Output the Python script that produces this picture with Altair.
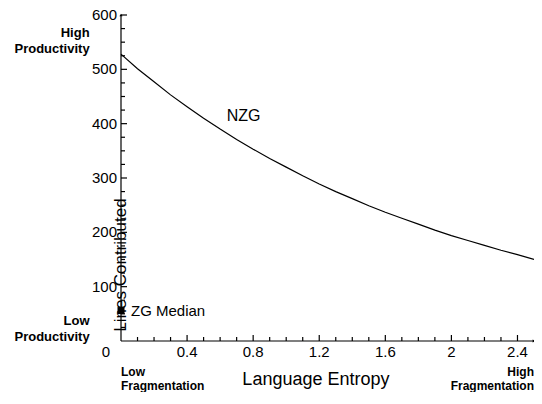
import altair as alt
import pandas as pd

# ---- data ----
entropy = [0.0, 0.1, 0.2, 0.3, 0.4, 0.5, 0.6, 0.7, 0.8, 0.9, 1.0, 1.1, 1.2,
           1.3, 1.4, 1.5, 1.6, 1.7, 1.8, 1.9, 2.0, 2.1, 2.2, 2.3, 2.4, 2.5]
nzg_lines = [528, 501, 477, 453, 431, 410, 390, 371, 353, 336, 320, 304, 289,
             275, 262, 249, 237, 226, 215, 204, 194, 185, 176, 167, 159, 150]

zg_entropy = [0.0]
zg_lines = [56]

x_major = [0.4, 0.8, 1.2, 1.6, 2.0, 2.4]
x_tick_labels = ["0.4", "0.8", "1.2", "1.6", "2", "2.4"]
x_minor = [0.1, 0.2, 0.3, 0.5, 0.6, 0.7, 0.9, 1.0, 1.1, 1.3, 1.4, 1.5,
           1.7, 1.8, 1.9, 2.1, 2.2, 2.3]
y_major = [100, 200, 300, 400, 500, 600]
y_tick_labels = ["100", "200", "300", "400", "500", "600"]
y_minor = [25, 50, 75, 125, 150, 175, 225, 250, 275, 325, 350, 375,
           425, 450, 475, 525, 550, 575]

# axis extents
x_axis_start = [0.0]
x_axis_end = [2.5]
y_axis_start = [0]
y_axis_end = [600]

# titles (data coordinates of their centres)
x_title = ["Language Entropy"]
x_title_pos = [1.18]
y_title = ["Lines Contributed"]
y_title_pos = [276]

# annotations (data coordinates of the first text line)
prod_text = ["High\nProductivity", "Low\nProductivity"]
prod_x = [-0.19, -0.19]
prod_y = [567, 37]
frag_right_text = ["High\nFragmentation"]
frag_right_x = [2.5]
frag_left_text = ["Low\nFragmentation"]
frag_left_x = [0.0]
frag_y = [-57]

W, H = 413, 326
FONT = "Liberation Sans"

curve = pd.DataFrame({"entropy": entropy, "lines": nzg_lines})
zg = pd.DataFrame({"entropy": zg_entropy, "lines": zg_lines, "label": ["ZG Median"]})
nzg_lab = pd.DataFrame({"entropy": [0.64], "lines": [415], "label": ["NZG"]})
prod = pd.DataFrame({"entropy": prod_x, "lines": prod_y, "label": prod_text})
frag_r = pd.DataFrame({"entropy": frag_right_x, "lines": frag_y, "label": frag_right_text})
frag_l = pd.DataFrame({"entropy": frag_left_x, "lines": frag_y, "label": frag_left_text})
origin = pd.DataFrame({"entropy": [0.0], "lines": [0], "label": ["0"]})
arrow_up = pd.DataFrame({"entropy": [0.0], "lines": [600]})
arrow_right = pd.DataFrame({"entropy": [2.5], "lines": [0]})
xaxis_df = pd.DataFrame({"entropy": x_axis_start, "entropy2": x_axis_end, "lines": [0]})
yaxis_df = pd.DataFrame({"lines": y_axis_start, "lines2": y_axis_end, "entropy": [0.0]})
xmaj = pd.DataFrame({"entropy": x_major, "lines": [0] * len(x_major), "label": x_tick_labels})
xmin = pd.DataFrame({"entropy": x_minor, "lines": [0] * len(x_minor)})
ymaj = pd.DataFrame({"lines": y_major, "entropy": [0.0] * len(y_major), "label": y_tick_labels})
ymin = pd.DataFrame({"lines": y_minor, "entropy": [0.0] * len(y_minor)})
xt = pd.DataFrame({"entropy": x_title_pos, "lines": [0], "label": x_title})
yt = pd.DataFrame({"entropy": [0.0], "lines": y_title_pos, "label": y_title})

xs = alt.Scale(domain=[0, 2.5], nice=False, zero=False)
ys = alt.Scale(domain=[0, 600], nice=False, zero=False)

X0 = alt.X("entropy:Q", scale=xs, axis=None)
Y0 = alt.Y("lines:Q", scale=ys, axis=None)
enc = dict(x=X0, y=Y0)

line = alt.Chart(curve).mark_line(color="black", strokeWidth=1.2).encode(**enc)

x_line = alt.Chart(xaxis_df).mark_rule(color="black", strokeWidth=1.2).encode(
    x=X0, x2="entropy2:Q", y=Y0)
y_line = alt.Chart(yaxis_df).mark_rule(color="black", strokeWidth=1.2).encode(
    y=Y0, y2="lines2:Q", x=X0)

# inward tick marks on both axes
xmaj_ticks = alt.Chart(xmaj).mark_tick(orient="vertical", size=6, thickness=1.2,
                                       yOffset=-3, color="black", opacity=1).encode(**enc)
xmin_ticks = alt.Chart(xmin).mark_tick(orient="vertical", size=4, thickness=1.2,
                                       yOffset=-2, color="black", opacity=1).encode(**enc)
ymaj_ticks = alt.Chart(ymaj).mark_tick(orient="horizontal", size=6, thickness=1.2,
                                       xOffset=3, color="black", opacity=1).encode(**enc)
ymin_ticks = alt.Chart(ymin).mark_tick(orient="horizontal", size=4, thickness=1.2,
                                       xOffset=2, color="black", opacity=1).encode(**enc)

# tick labels and axis titles
x_labels = alt.Chart(xmaj).mark_text(align="center", baseline="middle", dy=11,
                                     fontSize=15, color="black").encode(text="label:N", **enc)
y_labels = alt.Chart(ymaj).mark_text(align="right", baseline="middle", dx=-4,
                                     fontSize=15, color="black").encode(text="label:N", **enc)
x_title_mark = alt.Chart(xt).mark_text(align="center", baseline="middle", dy=39,
                                       fontSize=18, color="black").encode(text="label:N", **enc)
y_title_mark = alt.Chart(yt).mark_text(align="center", baseline="middle", angle=270,
                                       dx=-74, fontSize=17, color="black").encode(
    text="label:N", **enc)

zg_point = alt.Chart(zg).mark_square(size=49, color="black", opacity=1).encode(**enc)
zg_text = alt.Chart(zg).mark_text(align="left", baseline="middle", dx=10,
                                  fontSize=15, color="black").encode(text="label:N", **enc)
nzg_text = alt.Chart(nzg_lab).mark_text(align="left", baseline="middle",
                                        fontSize=16, color="black").encode(text="label:N", **enc)
prod_marks = alt.Chart(prod).mark_text(align="right", baseline="middle", lineBreak="\n",
                                       lineHeight=16, fontSize=13, fontWeight="bold",
                                       color="black").encode(text="label:N", **enc)
frag_r_marks = alt.Chart(frag_r).mark_text(align="right", baseline="middle", lineBreak="\n",
                                           lineHeight=14, fontSize=12, fontWeight="bold",
                                           color="black").encode(text="label:N", **enc)
frag_l_marks = alt.Chart(frag_l).mark_text(align="left", baseline="middle", lineBreak="\n",
                                           lineHeight=14, fontSize=12, fontWeight="bold",
                                           color="black").encode(text="label:N", **enc)
origin_text = alt.Chart(origin).mark_text(align="center", baseline="middle", dx=-15, dy=11,
                                          fontSize=15, color="black").encode(text="label:N", **enc)
up = alt.Chart(arrow_up).mark_point(shape="triangle-up", size=10, filled=True,
                                    color="black", opacity=1).encode(**enc)
right = alt.Chart(arrow_right).mark_point(shape="triangle-right", size=10, filled=True,
                                          color="black", opacity=1).encode(**enc)

chart = alt.layer(
    line, x_line, y_line, xmaj_ticks, xmin_ticks, ymaj_ticks, ymin_ticks,
    x_labels, y_labels, x_title_mark, y_title_mark,
    zg_point, zg_text, nzg_text,
    prod_marks, frag_r_marks, frag_l_marks, origin_text, up, right,
).properties(
    width=W, height=H,
    autosize=alt.AutoSizeParams(type="none"),
    padding={"left": 113, "top": 7, "right": 0, "bottom": 51},
).configure(font=FONT, background="white").configure_view(strokeWidth=0)

chart.save("out.html", embed_options={"renderer": "svg", "actions": False})
